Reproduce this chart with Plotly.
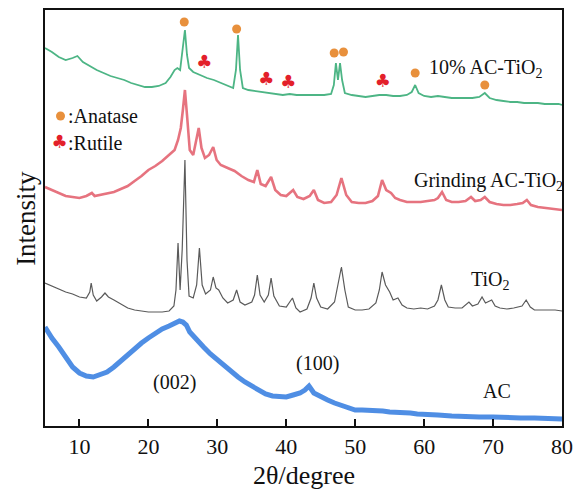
import plotly.graph_objects as go

# ---------------- data (2θ in degree, intensity in arbitrary offset units) ----------------
ac_tio2_x = [5, 6, 7, 8, 9, 9.7, 10.5, 11.5, 12.5, 13.5, 14.5, 15.5, 16.5, 17.5, 18.5, 19.5, 20.5, 21.5,
             22.5, 23.2, 23.8, 24.2, 24.6, 24.9, 25.3, 25.6, 25.9, 26.5, 27.5, 28.5, 29.5, 30.5, 31.5,
             32.3, 32.7, 33.0, 33.3, 33.7, 34.5, 35.5, 36.5, 37.5, 38.5, 39.5, 40.5, 41.5, 42.5, 43.5,
             44.5, 45.5, 46.5, 46.9, 47.2, 47.5, 47.8, 48.1, 48.5, 49.5, 50.5, 51.5, 52.5, 53.5, 54.5,
             55.5, 56.5, 57.5, 58.2, 58.7, 59.2, 60, 61, 62, 63, 64, 65, 66, 67, 68, 68.8, 69.5, 70.5,
             71.5, 72.5, 73.5, 74.5, 75.5, 76.5, 77.5, 78.5, 79.5, 80]
ac_tio2_y = [378, 374, 369, 366, 368, 370, 364, 360, 356, 353, 350, 348, 346, 343, 341, 339, 339, 340,
             343, 349, 356, 358, 356, 371, 396, 371, 358, 354, 351, 348, 346, 343, 340,
             338, 356, 391, 356, 338, 336, 335, 334, 333, 332, 331, 332, 331, 331, 331,
             331, 331, 332, 341, 363, 346, 363, 346, 333, 331, 330, 329, 330, 331, 331,
             330, 330, 331, 334, 341, 333, 330, 329, 330, 329, 328, 328, 328, 328, 329, 333, 328, 326,
             325, 324, 324, 323, 323, 323, 322, 322, 322, 321]

grind_x = [5, 6, 7, 8, 9, 10, 11, 11.8, 12.2, 13, 14, 15, 16, 17, 18, 19, 20, 21, 22, 23, 23.8, 24.3,
           24.7, 25.0, 25.3, 25.6, 26.0, 26.5, 27.0, 27.3, 27.7, 28.2, 28.8, 29.4, 29.9, 30.5, 31.5,
           32.5, 33.5, 34.5, 35.3, 35.8, 36.3, 37.0, 37.8, 38.4, 39.2, 40, 41, 41.6, 42.5, 43.4, 44.0,
           44.6, 45.5, 46.5, 47.3, 48.0, 48.7, 49.5, 50.5, 51.5, 52.5, 53.3, 53.9, 54.5, 55.2, 55.8,
           56.5, 57.5, 58.5, 59.5, 60.5, 61.5, 62.0, 62.6, 63.2, 64, 65, 66, 66.8, 67.4, 68.2, 68.8,
           69.5, 70.5, 71.5, 72.5, 73.5, 74.3, 74.9, 75.5, 76.5, 77.5, 78.5, 79.5, 80]
grind_y = [239, 236, 233, 230, 229, 228, 230, 233, 230, 231, 233, 234, 237, 240, 245, 250, 256, 260,
           265, 271, 276, 286, 298, 316, 336, 311, 276, 271, 286, 298, 278, 268, 271, 279, 266, 261,
           258, 255, 250, 246, 244, 256, 242, 240, 249, 236, 231, 230, 236, 229, 227, 230, 236,
           226, 223, 224, 231, 248, 231, 224, 223, 223, 225, 230, 246, 236, 233, 228,
           226, 224, 224, 224, 225, 226, 228, 234, 226, 224, 224, 225, 229, 225, 226, 229,
           224, 222, 221, 221, 222, 223, 226, 221, 219, 218, 217, 216, 216]

tio2_x = [5, 6, 7, 8, 9, 10, 11, 11.5, 11.7, 12.0, 12.5, 13.2, 13.7, 14.2, 15, 16, 17, 18, 19, 20, 21,
          22, 23, 23.7, 24.0, 24.3, 24.6, 24.9, 25.3, 25.6, 25.9, 26.5, 27.0, 27.4, 27.8, 28.3, 29.0,
          29.4, 29.8, 30.2, 30.8, 31.5, 32.3, 32.8, 33.3, 34, 35, 35.4, 35.8, 36.2, 36.8, 37.4, 37.8,
          38.2, 39, 40, 40.5, 40.9, 41.4, 42, 43, 43.6, 44.0, 44.4, 45, 46, 47, 47.5, 48.0, 48.5, 49,
          50, 51, 52, 53, 53.5, 53.9, 54.4, 55, 55.5, 56.2, 56.8, 57.5, 58.5, 59.5, 60.5, 61.5, 62.0,
          62.5, 63.0, 63.5, 64.5, 65.5, 66.5, 67.0, 67.8, 68.4, 68.9, 69.8, 70.3, 71, 72, 73, 74.2,
          74.8, 75.4, 76, 77, 78, 79, 80]
tio2_y = [143, 140, 137, 134, 132, 129, 128, 134, 143, 131, 125, 129, 133, 129, 126, 122, 118, 116, 115,
          114, 114, 114, 115, 120, 136, 183, 136, 176, 266, 166, 130, 128, 141, 178, 141, 132, 136,
          149, 138, 136, 128, 123, 126, 136, 124, 121, 124, 131, 151, 131, 124, 131, 148,
          130, 120, 119, 124, 128, 118, 114, 117, 128, 143, 128, 119, 117, 124, 141, 159, 136, 119,
          116, 116, 117, 123, 136, 154, 141, 134, 126, 128, 121, 118, 117, 118, 117, 120, 126,
          141, 126, 119, 118, 118, 124, 120, 122, 129, 123, 126, 120, 118, 117, 118, 120,
          126, 119, 116, 116, 116, 116, 115]

ac_x = [5, 5.5, 6, 7, 8, 9, 10, 11, 12, 13, 14, 15, 16, 17, 18, 19, 20, 21, 22, 23, 24, 24.5, 25, 25.5,
        26, 27, 28, 29, 30, 31, 32, 33, 34, 35, 36, 37, 38, 39, 40, 41, 42, 42.7, 43.3, 44, 45, 46, 47,
        48, 49, 50, 51, 52, 53, 54, 55, 56, 57, 58, 59, 60, 62, 64, 66, 68, 70, 72, 74, 76, 78, 80]
ac_y = [99, 93, 88, 79, 68, 59, 53, 50, 49, 51, 54, 59, 65, 72, 78, 83, 88, 93, 97, 100, 103, 105, 104, 101,
        94, 86, 79, 72, 66, 60, 54, 49, 44, 40, 36, 32, 30, 29, 29, 31, 33, 36, 40, 33, 29, 26, 23,
        21, 18, 16, 16, 16, 15, 15, 14, 14, 13, 13, 12, 12, 11, 10, 9, 9, 9, 8, 8, 8, 7, 7]

anatase_x = [25.2, 32.8, 46.95, 48.3, 58.7, 68.8]
anatase_y = [404, 397, 373, 374, 353, 341]
rutile_x = [28.1, 37.1, 40.3, 54.0]
rutile_y = [363, 346, 343, 344]

series_labels = ["10% AC-TiO<sub>2</sub>", "Grinding AC-TiO<sub>2</sub>", "TiO<sub>2</sub>", "AC"]
label_x = [60.4, 58.3, 66.5, 68.3]
label_y = [358, 245, 146, 35]
plane_labels = ["(002)", "(100)"]
plane_x = [23.8, 44.6]
plane_y = [44, 63]
x_ticks = [10, 20, 30, 40, 50, 60, 70, 80]

SERIF = "Liberation Serif, Times New Roman, serif"
ORANGE = "#E8903C"
RED = "#E3202A"

fig = go.Figure()
fig.add_trace(go.Scatter(x=ac_x, y=ac_y, mode="lines",
                         line=dict(color="rgba(60,130,225,0.9)", width=5), hoverinfo="skip"))
fig.add_trace(go.Scatter(x=tio2_x, y=tio2_y, mode="lines",
                         line=dict(color="#5a5a5a", width=1.2), hoverinfo="skip"))
fig.add_trace(go.Scatter(x=grind_x, y=grind_y, mode="lines",
                         line=dict(color="rgba(226,90,105,0.85)", width=2.6), hoverinfo="skip"))
fig.add_trace(go.Scatter(x=ac_tio2_x, y=ac_tio2_y, mode="lines",
                         line=dict(color="#4DB585", width=1.8), hoverinfo="skip"))
fig.add_trace(go.Scatter(x=anatase_x, y=anatase_y, mode="markers",
                         marker=dict(color=ORANGE, size=9), hoverinfo="skip"))
fig.add_trace(go.Scatter(x=rutile_x, y=rutile_y, mode="text", text=["♣"] * len(rutile_x),
                         textfont=dict(color=RED, size=18, family="DejaVu Sans"), hoverinfo="skip"))

# legend for phases
fig.add_trace(go.Scatter(x=[7.25], y=[310], mode="markers",
                         marker=dict(color=ORANGE, size=9), hoverinfo="skip"))
fig.add_trace(go.Scatter(x=[7.1], y=[283], mode="text", text=["♣"],
                         textfont=dict(color=RED, size=18, family="DejaVu Sans"), hoverinfo="skip"))

annotations = [
    dict(x=8.0, y=310, text=":Anatase", xanchor="left", yanchor="middle"),
    dict(x=8.0, y=283, text=":Rutile", xanchor="left", yanchor="middle"),
]
for t, xx, yy in zip(series_labels, label_x, label_y):
    annotations.append(dict(x=xx, y=yy, text=t, xanchor="left", yanchor="middle"))
for t, xx, yy in zip(plane_labels, plane_x, plane_y):
    annotations.append(dict(x=xx, y=yy, text=t, xanchor="center", yanchor="middle"))
for a in annotations:
    a.update(showarrow=False, xref="x", yref="y", font=dict(family=SERIF, size=20, color="#111"))

# axis titles (placed in paper coordinates)
annotations.append(dict(x=0.5, y=-0.118, xref="paper", yref="paper", text="2θ/degree",
                        showarrow=False, xanchor="center", yanchor="middle",
                        font=dict(family=SERIF, size=26, color="#111")))
annotations.append(dict(x=-0.037, y=0.5, xref="paper", yref="paper", text="Intensity",
                        showarrow=False, xanchor="center", yanchor="middle", textangle=-90,
                        font=dict(family=SERIF, size=27, color="#111")))

fig.update_layout(
    width=575, height=489,
    margin=dict(l=45, r=13, t=10, b=63, autoexpand=False),
    plot_bgcolor="white", paper_bgcolor="white",
    showlegend=False,
    annotations=annotations,
    font=dict(family=SERIF, color="#111"),
    xaxis=dict(range=[5, 80], tickvals=x_ticks, ticks="inside", ticklen=7, tickwidth=2,
               tickcolor="#111", showline=True, linecolor="#111", linewidth=2, mirror=True,
               showgrid=False, zeroline=False, tickfont=dict(size=22, family=SERIF),
               automargin=False),
    yaxis=dict(range=[0, 416], showticklabels=False, ticks="", showline=True, linecolor="#111",
               linewidth=2, mirror=True, showgrid=False, zeroline=False, automargin=False),
)

fig.write_html("out.html", config={"displayModeBar": False},
               post_script="document.body.style.margin='0';document.body.style.padding='0';")
